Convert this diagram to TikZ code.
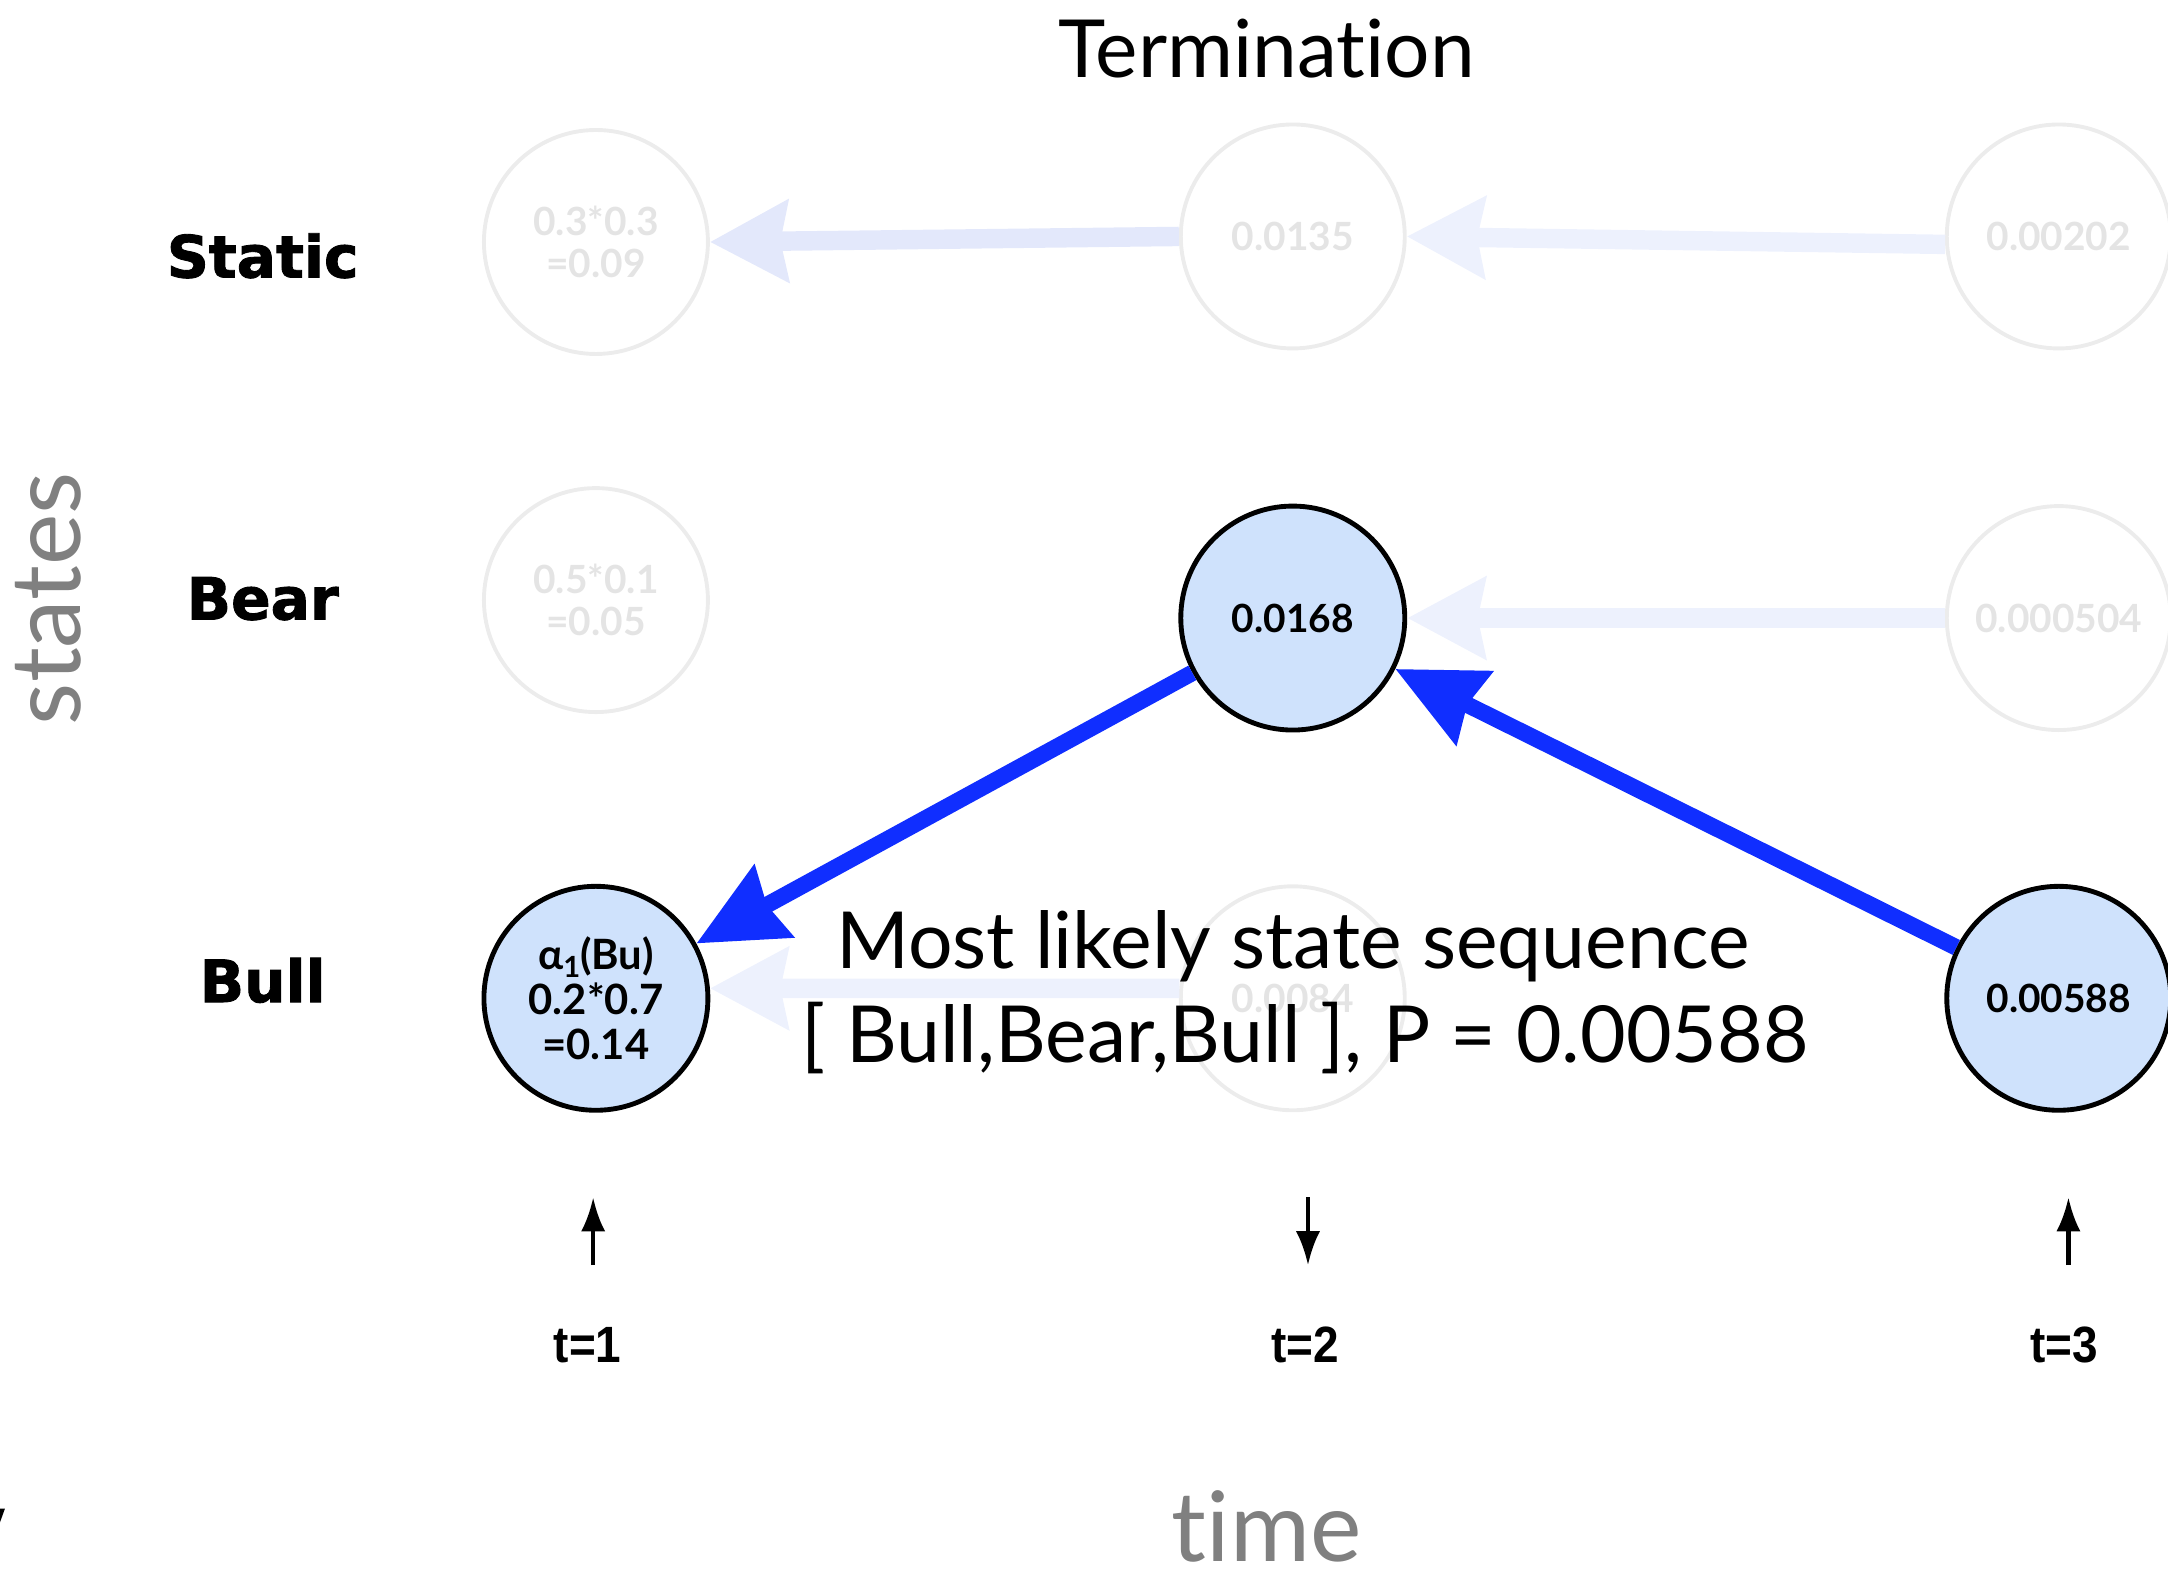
\documentclass[tikz,border=0pt]{standalone}
\usepackage{fontspec}
\setmainfont{Lato}[Ligatures=NoCommon]
\newfontfamily\heavyfont{DejaVu Sans}[BoldFeatures={FakeBold=1.5}]
\newfontfamily\narrowfont{Liberation Sans}
\usetikzlibrary{arrows.meta}

\definecolor{nodefill}{RGB}{207,226,252}
\definecolor{pathblue}{RGB}{16,46,255}
\definecolor{faintline}{RGB}{236,236,236}
\definecolor{fainttext}{RGB}{228,228,228}
\definecolor{ghostA}{RGB}{227,232,251}
\definecolor{ghostB}{RGB}{237,241,253}
\definecolor{axisgrey}{RGB}{128,128,128}

\begin{document}
\begin{tikzpicture}[x=0.1mm,y=-0.1mm,
  state/.style={circle,draw=black,line width=1pt,fill=nodefill,minimum size=16.2mm,
    inner sep=0pt,align=center,font={\fontsize{8}{8.6}\selectfont\bfseries}},
  ghost/.style={circle,draw=faintline,line width=0.8pt,minimum size=16.2mm,
    inner sep=0pt,align=center,text=fainttext,font={\fontsize{8}{8.6}\selectfont\bfseries}},
  rowlabel/.style={font={\heavyfont\bfseries\fontsize{12}{14}\selectfont}},
  ghostarrow/.style={line width=4pt,-{Stealth[length=16pt,width=16.5pt,inset=1.5pt]}},
  patharrow/.style={draw=pathblue,line width=3.4pt,-{Stealth[length=18pt,width=16.5pt,inset=1.5pt]}},
  tickarrow/.style={line width=0.9pt,-{Latex[length=7pt,width=5pt]}},
  ticklabel/.style={font={\narrowfont\bfseries\fontsize{10.5}{12}\selectfont}},
  axislabel/.style={text=axisgrey,font={\fontsize{20}{24}\selectfont}},
  titletext/.style={font={\fontsize{16.5}{20}\selectfont}},
  bigtext/.style={font={\fontsize{16.2}{20}\selectfont}}
]
\useasboundingbox (0,0) rectangle (1568,1135);

% title
\node[titletext] (title) at (916,35) {Termination};

% axis labels
\node[axislabel,rotate=90] (states) at (35,433) {states};
\node[axislabel] (time) at (916,1104) {time};

% row labels
\node[rowlabel] (lstatic) at (190,185) {Static};
\node[rowlabel] (lbear) at (190,433) {Bear};
\node[rowlabel] (lbull) at (190,709) {Bull};

% faded trellis cells
\node[ghost] (s1) at (431,175) {0.3*0.3\\=0.09};
\node[ghost] (s2) at (935,171) {0.0135};
\node[ghost] (s3) at (1489,171) {0.00202};
\node[ghost] (r1) at (431,434) {0.5*0.1\\=0.05};
\node[ghost] (r3) at (1489,447) {0.000504};
\node[ghost] (b2) at (935,722) {0.0084};

% cells on the best path
\node[state] (r2) at (935,447) {0.0168};
\node[state,font={\fontsize{8.6}{9.2}\selectfont\bfseries}] (b1) at (431,722)
  {α\raisebox{-0.35ex}{\fontsize{6}{6}\selectfont 1}(Bu)\\0.2*0.7\\=0.14};
\node[state] (b3) at (1489,722) {0.00588};

% faded back-pointers
\draw[ghostarrow,draw=ghostA] (s2.west) -- (s1.east);
\draw[ghostarrow,draw=ghostB] (s3.184) -- (s2.east);
\draw[ghostarrow,draw=ghostB] (r3.west) -- (r2.east);
\draw[ghostarrow,draw=ghostB] (b2.175) -- (b1.5);

% back-tracked best path
\draw[patharrow] (r2) -- (b1);
\draw[patharrow] (b3) -- (r2);

% result text
\node[bigtext] (seq1) at (935,684) {Most likely state sequence};
\node[bigtext] (seq2) at (944,751) {[ Bull,Bear,Bull ], P = 0.00588};

% market moves per time step
\coordinate (u1b) at (429,915); \coordinate (u1t) at (429,866);
\coordinate (d2t) at (946,866); \coordinate (d2b) at (946,915);
\coordinate (u3b) at (1496,915); \coordinate (u3t) at (1496,866);
\draw[tickarrow] (u1b) -- (u1t);
\draw[tickarrow] (d2t) -- (d2b);
\draw[tickarrow] (u3b) -- (u3t);
\node[ticklabel] (t1) at (425,973) {\scalebox{0.9}[1]{t=1}};
\node[ticklabel] (t2) at (944,973) {\scalebox{0.9}[1]{t=2}};
\node[ticklabel] (t3) at (1493,973) {\scalebox{0.9}[1]{t=3}};

% clipped glyph at the lower left edge
\fill (0,1091) -- (3.6,1091) -- (0,1101) -- cycle;
\end{tikzpicture}
\end{document}
